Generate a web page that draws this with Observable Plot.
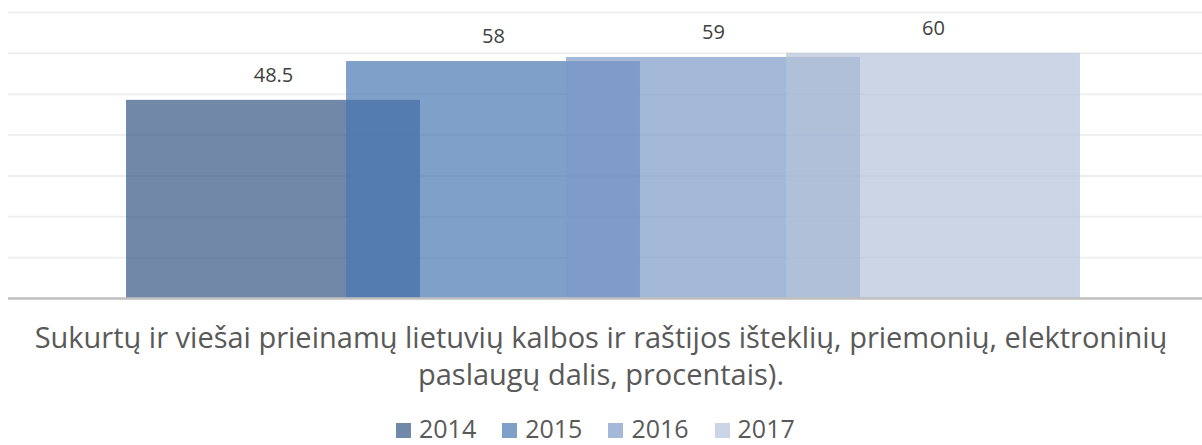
<!DOCTYPE html>
<html><head><meta charset="utf-8">
<script src="https://cdn.jsdelivr.net/npm/d3@7"></script>
<script src="https://cdn.jsdelivr.net/npm/@observablehq/plot@0.6"></script>
<style>
html,body{margin:0;padding:0;background:#fff;}
body{width:1202px;height:445px;position:relative;overflow:hidden;font-family:"Open Sans",sans-serif;}
#chart{position:absolute;left:0;top:0;}
#title{position:absolute;left:0;width:1202px;top:318px;text-align:center;font-size:29px;line-height:37px;color:#595959;white-space:nowrap;}
#legend{position:absolute;left:396px;top:419px;display:flex;gap:26px;font-size:25px;color:#595959;}
.item{display:flex;align-items:flex-start;}
.sw{display:block;width:15px;height:15px;margin-top:4px;margin-right:8px;}
.lt{display:inline-block;height:18px;line-height:18px;}
</style>
</head><body>
<div id="chart"></div>
<div id="title">Sukurtų ir viešai prieinamų lietuvių kalbos ir raštijos išteklių, priemonių, elektroninių<br>paslaugų dalis, procentais).</div>
<div id="legend"></div>
<script>
const years = ["2014", "2015", "2016", "2017"];
const values = [48.5, 58, 59, 60];
const valueLabels = ["48.5", "58", "59", "60"];
const colors = ["#345683", "#4877b0", "#7d9ac6", "#b5c3da"];
const gridTicks = [10, 20, 30, 40, 50, 60, 70];

const opacity = 0.7;
const halfWidth = 0.668;
const data = years.map((y, i) => ({i, year: y, value: values[i], label: valueLabels[i]}));

const chart = Plot.plot({
  width: 1202, height: 300,
  marginTop: 12, marginBottom: 2, marginLeft: 8, marginRight: 0,
  x: {type: "linear", domain: [-1.2045, 4.2227], axis: null},
  y: {domain: [0, 70], axis: null},
  color: {domain: years, range: colors},
  marks: [
    Plot.ruleY(gridTicks, {stroke: "#efefef", strokeWidth: 2}),
    Plot.rect(data, {x1: d => d.i - halfWidth, x2: d => d.i + halfWidth, y1: () => 0, y2: "value", fill: "year", fillOpacity: opacity}),
    Plot.ruleY([0], {stroke: "#bfbfbf", strokeWidth: 2.5}),
    Plot.text(data, {x: "i", y: "value", text: "label", dy: -25, fontSize: 20, fill: "#404040", fontFamily: "Open Sans"})
  ]
});
document.getElementById("chart").appendChild(chart);

const legend = document.getElementById("legend");
years.forEach((y, i) => {
  const item = document.createElement("div");
  item.className = "item";
  const sw = document.createElement("span");
  sw.className = "sw";
  sw.style.background = d3.interpolateRgb("#ffffff", colors[i])(opacity);
  const t = document.createElement("span");
  t.className = "lt";
  t.textContent = y;
  item.appendChild(sw); item.appendChild(t);
  legend.appendChild(item);
});
</script>
</body></html>
